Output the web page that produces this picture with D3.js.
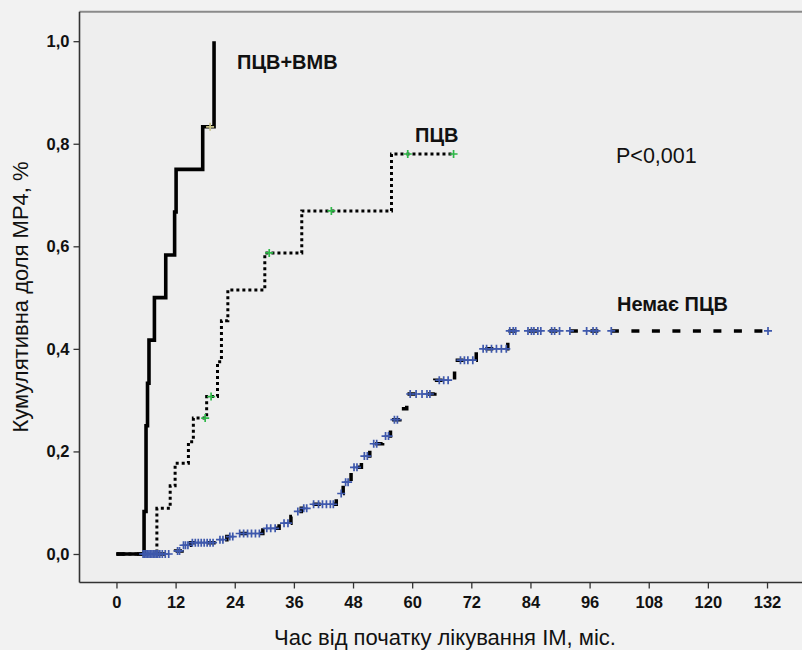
<!DOCTYPE html>
<html>
<head>
<meta charset="utf-8">
<script src="https://cdn.jsdelivr.net/npm/d3@7"></script>
<style>
  html, body { margin: 0; padding: 0; background: #f2f2f2; }
  svg { display: block; }
  text { font-family: "Liberation Sans", Arial, sans-serif; fill: #111; }
</style>
</head>
<body>
<svg id="chart" width="802" height="650"></svg>
<script>
// ---------- data ----------
const groupNames = ["ПЦВ+ВМВ", "ПЦВ", "Немає ПЦВ"];
const xTickValues = [0, 12, 24, 36, 48, 60, 72, 84, 96, 108, 120, 132];
const yTickValues = [0, 0.2, 0.4, 0.6, 0.8, 1.0];
const pValueLabel = "P<0,001";
const xTitle = "Час від початку лікування ІМ, міс.";
const yTitle = "Кумулятивна доля МР4, %";

// ПЦВ+ВМВ (solid)
const timesPcvVmv = [0, 5.6, 6.0, 6.3, 6.6, 7.7, 10.0, 11.8, 12.1, 17.5, 19.8];
const cumPcvVmv   = [0, 0.083, 0.25, 0.333, 0.417, 0.5, 0.583, 0.667, 0.75, 0.833, 1.0];
const endPcvVmv = 19.8;
const censorPcvVmv = [19.0];

// ПЦВ (dotted)
const timesPcv = [0, 8.2, 10.9, 11.9, 14.6, 15.6, 18.3, 20.5, 21.3, 22.6, 30.1, 37.6, 55.8];
const cumPcv   = [0, 0.089, 0.133, 0.177, 0.219, 0.265, 0.307, 0.375, 0.455, 0.515, 0.587, 0.669, 0.78];
const endPcv = 68.4;
const censorPcv = [18.0, 19.2, 31.0, 43.6, 59.1, 68.4];

// Немає ПЦВ (dashed)
const timesNo = [0, 12.0, 13.3, 15.0, 20.5, 22.4, 24.0, 29.7, 33.0, 35.4, 36.3, 37.5, 39.0,
                 44.6, 45.2, 46.0, 47.6, 49.7, 51.4, 54.0, 55.6, 57.5, 58.9, 64.6, 68.6, 73.0, 79.4];
const cumNo   = [0, 0.006, 0.017, 0.022, 0.028, 0.034, 0.040, 0.050, 0.060, 0.073, 0.083, 0.089, 0.097,
                 0.110, 0.118, 0.140, 0.169, 0.191, 0.215, 0.230, 0.262, 0.283, 0.312, 0.339, 0.378, 0.400, 0.435];
const endNo = 132.2;
const censorNo = [5.4, 5.7, 6.0, 6.3, 6.6, 6.9, 7.2, 7.5, 7.8, 8.1, 8.4, 8.8, 9.3, 9.9, 10.6,
  12.4, 12.8, 13.6, 14.0, 14.5, 15.4, 16.0, 16.6, 17.2, 17.8, 18.4, 19.0, 19.6, 21.0, 21.6,
  23.0, 23.6, 25.0, 25.8, 26.6, 27.4, 28.2, 29.0, 30.5, 31.3, 32.2, 34.0, 34.8, 36.8, 38.0,
  38.6, 40.0, 41.0, 41.8, 42.6, 43.4, 44.0, 45.6, 46.5, 47.0, 48.2, 48.8, 50.3, 50.9, 52.2,
  52.8, 54.6, 55.2, 56.4, 57.0, 59.6, 60.8, 62.0, 63.0, 63.6, 65.5, 66.4, 67.3, 69.8, 70.6,
  71.3, 72.3, 74.4, 75.1, 76.1, 77.1, 78.1, 79.1, 79.8, 80.5, 81.0, 83.5, 84.2, 84.7, 85.5,
  86.1, 88.3, 88.9, 89.9, 92.0, 95.4, 96.7, 97.4, 100.4, 132.2];

// ---------- layout ----------
const svg = d3.select("#chart");
const plotLeft = 79.5, plotRight = 803, plotTop = 11.7, plotBottom = 582.5;

const x = d3.scaleLinear().domain([-7.5, 139.3]).range([plotLeft, plotRight]);
const y = d3.scaleLinear().domain([-0.0556, 1.0575]).range([plotBottom, plotTop]);

// plot background
svg.append("rect")
  .attr("x", plotLeft).attr("y", plotTop)
  .attr("width", plotRight - plotLeft).attr("height", plotBottom - plotTop)
  .attr("fill", "#eeeeee");
svg.append("line")
  .attr("x1", plotLeft).attr("x2", plotRight)
  .attr("y1", plotTop).attr("y2", plotTop)
  .attr("stroke", "#8a8a8a").attr("stroke-width", 2);

// axes
const fmt = d => d3.format(".1f")(d).replace(".", ",");
const yAxis = svg.append("g")
  .attr("transform", `translate(${plotLeft},0)`)
  .call(d3.axisLeft(y).tickValues(yTickValues).tickFormat(fmt).tickSize(6).tickPadding(4));
const xAxis = svg.append("g")
  .attr("transform", `translate(0,${plotBottom})`)
  .call(d3.axisBottom(x).tickValues(xTickValues).tickSize(6).tickPadding(8));

[xAxis, yAxis].forEach(a => {
  a.select(".domain").remove();
  a.selectAll(".tick line").attr("stroke", "#333").attr("stroke-width", 1.3);
  a.selectAll(".tick text")
    .style("font-family", "'Liberation Sans', Arial, sans-serif")
    .style("font-size", "16.5px").style("font-weight", "bold").attr("fill", "#111");
});
// axis lines
svg.append("line").attr("x1", plotLeft).attr("x2", plotLeft)
  .attr("y1", plotTop).attr("y2", plotBottom).attr("stroke", "#333").attr("stroke-width", 1.6);
svg.append("line").attr("x1", plotLeft).attr("x2", plotRight)
  .attr("y1", plotBottom).attr("y2", plotBottom).attr("stroke", "#333").attr("stroke-width", 1.6);

// ---------- curves ----------
const line = d3.line().x(d => x(d[0])).y(d => y(d[1])).curve(d3.curveStepAfter);
function pts(times, cums, end) {
  const p = times.map((t, i) => [t, cums[i]]);
  p.push([end, cums[cums.length - 1]]);
  return p;
}
function valueAt(times, cums, t) {
  let v = 0;
  for (let i = 0; i < times.length; i++) if (times[i] <= t) v = cums[i];
  return v;
}

svg.append("defs").append("clipPath").attr("id", "clip")
  .append("rect").attr("x", plotLeft).attr("y", plotTop)
  .attr("width", plotRight - plotLeft).attr("height", plotBottom - plotTop);
const g = svg.append("g").attr("clip-path", "url(#clip)");

g.append("path").datum(pts(timesNo, cumNo, endNo))
  .attr("d", line).attr("fill", "none").attr("stroke", "#000")
  .attr("stroke-width", 3.5).attr("stroke-dasharray", "8,12.5");
g.append("path").datum(pts(timesPcv, cumPcv, endPcv))
  .attr("d", line).attr("fill", "none").attr("stroke", "#000")
  .attr("stroke-width", 3).attr("stroke-dasharray", "3,3");
g.append("path").datum(pts(timesPcvVmv, cumPcvVmv, endPcvVmv))
  .attr("d", line).attr("fill", "none").attr("stroke", "#000")
  .attr("stroke-width", 3.6);

// censor marks
const plus = "M-4,0H4M0,-4V4";
function censors(list, times, cums, color) {
  g.selectAll(null).data(list).enter().append("path")
    .attr("d", plus)
    .attr("transform", t => `translate(${x(t)},${y(valueAt(times, cums, t))})`)
    .attr("stroke", color).attr("stroke-width", 1.7).attr("fill", "none");
}
censors(censorNo, timesNo, cumNo, "#3e58ac");
censors(censorPcv, timesPcv, cumPcv, "#2eb848");
censors(censorPcvVmv, timesPcvVmv, cumPcvVmv, "#c9c48a");

// ---------- labels ----------
const labelPos = [[237, 69], [415, 141.7], [617, 310.7]];
groupNames.forEach((name, i) => {
  svg.append("text").attr("x", labelPos[i][0]).attr("y", labelPos[i][1])
    .style("font-size", "20px").style("font-weight", "bold").text(name);
});
svg.append("text").attr("x", 616).attr("y", 162.5)
  .style("font-size", "21.5px").text(pValueLabel);

svg.append("text").attr("x", 445).attr("y", 645).attr("text-anchor", "middle")
  .style("font-size", "22px").text(xTitle);
svg.append("text").attr("transform", "translate(28,297) rotate(-90)")
  .attr("text-anchor", "middle").style("font-size", "22px").text(yTitle);
</script>
</body>
</html>
